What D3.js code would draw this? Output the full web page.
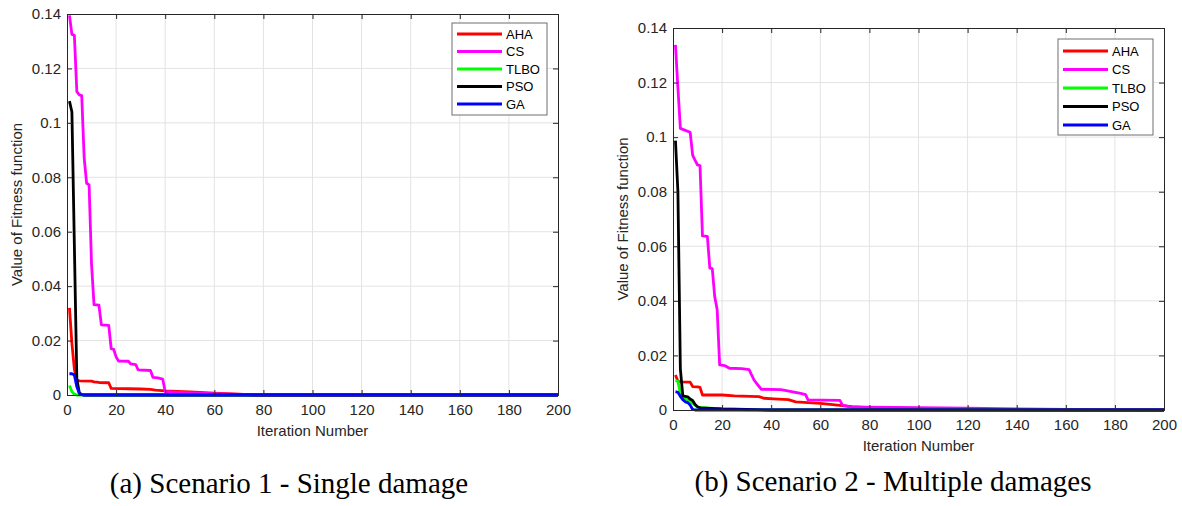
<!DOCTYPE html>
<html>
<head>
<meta charset="utf-8">
<script src="https://cdn.jsdelivr.net/npm/d3@7"></script>
<style>
  body { margin: 0; background: #fff; }
  svg { display: block; }
  .tick-label { font-family: "Liberation Sans", Arial, sans-serif; font-size: 15px; fill: #262626; }
  .axis-title { font-family: "Liberation Sans", Arial, sans-serif; font-size: 15px; fill: #262626; }
  .legend-text { font-family: "Liberation Sans", Arial, sans-serif; font-size: 13px; fill: #000; }
  .caption { font-family: "Liberation Serif", "Times New Roman", serif; font-size: 29px; fill: #000; }
</style>
</head>
<body>
<div id="chart"></div>
<script>
// series names and colours
const seriesNames = ["AHA", "CS", "TLBO", "PSO", "GA"];
const seriesColors = ["#ff0000", "#ff00ff", "#00ff00", "#000000", "#0000ff"];

// tick labels
const xTicks = [0, 20, 40, 60, 80, 100, 120, 140, 160, 180, 200];
const yTicks = [0, 0.02, 0.04, 0.06, 0.08, 0.1, 0.12, 0.14];
const yTickLabels = ["0", "0.02", "0.04", "0.06", "0.08", "0.1", "0.12", "0.14"];

// Scenario 1 - [iteration, fitness]
const s1AHA = [[1,0.0320],[2,0.0190],[3,0.0095],[4,0.0055],[5,0.0052],[10,0.0051],[11,0.0048],[13,0.0046],[17,0.0045],[18,0.0024],[25,0.0023],[30,0.0022],[34,0.0021],[36,0.0018],[40,0.0015],[50,0.0011],[60,0.0007],[70,0.0003],[76,0],[200,0]];
const s1CS = [[1,0.1395],[2,0.1325],[3,0.1322],[4,0.1115],[5,0.1103],[6,0.1100],[7,0.0870],[8,0.0778],[9,0.0772],[10,0.0480],[11,0.0332],[13,0.0330],[14,0.0258],[17,0.0256],[18,0.0170],[19,0.0168],[20,0.0140],[21,0.0125],[25,0.0124],[26,0.0114],[28,0.0112],[29,0.0092],[34,0.0090],[35,0.0065],[37,0.0063],[39,0.0058],[40,0.0012],[50,0.0008],[60,0.0005],[70,0.0002],[78,0],[200,0]];
const s1TLBO = [[1,0.0035],[2,0.0012],[3,0.0003],[4,0],[200,0]];
const s1PSO = [[1,0.1080],[2,0.1040],[3,0.0550],[4,0.0060],[5,0.0008],[6,0.0001],[7,0],[200,0]];
const s1GA = [[1,0.0078],[2,0.0078],[3,0.0074],[4,0.0030],[5,0.0006],[6,0.0001],[7,0],[200,0]];

// Scenario 2 - [iteration, fitness]
const s2AHA = [[1,0.0128],[2,0.0105],[3,0.0103],[7,0.0102],[8,0.0086],[10,0.0085],[11,0.0083],[12,0.0055],[20,0.0055],[25,0.0052],[35,0.0049],[37,0.0043],[41,0.0041],[47,0.0038],[50,0.0030],[60,0.0024],[67,0.0018],[73,0.0012],[80,0.0009],[100,0.0006],[120,0.0003],[140,0.0001],[160,0],[200,0]];
const s2CS = [[1,0.1338],[2,0.1180],[3,0.1032],[5,0.1025],[7,0.1018],[8,0.0934],[9,0.0915],[10,0.0898],[11,0.0896],[12,0.0638],[14,0.0636],[15,0.0520],[16,0.0518],[17,0.0415],[18,0.0367],[19,0.0165],[21,0.0163],[23,0.0153],[28,0.0152],[31,0.0148],[33,0.0110],[34,0.0098],[36,0.0076],[44,0.0075],[52,0.0061],[54,0.0056],[55,0.0037],[68,0.0035],[69,0.0018],[73,0.0010],[80,0.0010],[100,0.0009],[120,0.0007],[140,0.0004],[160,0.0002],[200,0.0001]];
const s2TLBO = [[1,0.0108],[2,0.0105],[3,0.0060],[4,0.0045],[5,0.0040],[6,0.0035],[7,0.0030],[8,0.0025],[9,0.0018],[10,0.0010],[12,0.0009],[15,0.0007],[20,0.0004],[30,0.0001],[40,0],[200,0]];
const s2PSO = [[1,0.0987],[2,0.0800],[3,0.0150],[4,0.0052],[5,0.0050],[6,0.0048],[7,0.0040],[8,0.0035],[9,0.0020],[10,0.0012],[11,0.0008],[15,0.0006],[20,0.0004],[30,0.0002],[40,0],[200,0]];
const s2GA = [[1,0.0067],[2,0.0065],[3,0.0050],[4,0.0038],[5,0.0030],[6,0.0027],[7,0.0018],[8,0.0002],[9,0],[200,0]];

const captions = ["(a) Scenario 1 - Single damage", "(b) Scenario 2 - Multiple damages"];

const width = 1182;
const height = 506;

const svg = d3.create("svg")
    .attr("width", width)
    .attr("height", height)
    .attr("viewBox", [0, 0, width, height]);

svg.append("rect").attr("width", width).attr("height", height).attr("fill", "#fff");

d3.select("#chart").append(() => svg.node());

function drawPanel(opts) {
    const { box, series, legend, yLabelX, caption, captionX, captionY } = opts;

    const x = d3.scaleLinear().domain([0, 200]).range([box.left, box.right]);
    const y = d3.scaleLinear().domain([0, 0.14]).range([box.bottom, box.top]);

    const g = svg.append("g");

    // grid
    g.append("g").selectAll("line")
        .data(xTicks.slice(1, -1))
        .join("line")
            .attr("x1", d => x(d)).attr("x2", d => x(d))
            .attr("y1", box.top).attr("y2", box.bottom)
            .attr("stroke", "#e3e3e3");
    g.append("g").selectAll("line")
        .data(yTicks.slice(1, -1))
        .join("line")
            .attr("y1", d => y(d)).attr("y2", d => y(d))
            .attr("x1", box.left).attr("x2", box.right)
            .attr("stroke", "#e3e3e3");

    // lines
    const line = d3.line().x(d => x(d[0])).y(d => y(d[1]));
    g.append("g").selectAll("path")
        .data(series)
        .join("path")
            .attr("d", d => line(d))
            .attr("fill", "none")
            .attr("stroke", (d, i) => seriesColors[i])
            .attr("stroke-width", 2.8)
            .attr("stroke-linejoin", "round");

    // axes: bottom / left with labels, top / right ticks only (inward)
    const axisColor = "#262626";
    const tick = 5;
    const bottom = g.append("g")
        .attr("transform", `translate(0,${box.bottom})`)
        .call(d3.axisBottom(x).tickValues(xTicks).tickSize(-tick).tickPadding(9));
    const left = g.append("g")
        .attr("transform", `translate(${box.left},0)`)
        .call(d3.axisLeft(y).tickValues(yTicks).tickFormat((d, i) => yTickLabels[i]).tickSize(-tick).tickPadding(6));
    const top = g.append("g")
        .attr("transform", `translate(0,${box.top})`)
        .call(d3.axisTop(x).tickValues(xTicks).tickSize(-tick).tickFormat(""));
    const right = g.append("g")
        .attr("transform", `translate(${box.right},0)`)
        .call(d3.axisRight(y).tickValues(yTicks).tickSize(-tick).tickFormat(""));

    [bottom, left, top, right].forEach(a => {
        a.select(".domain").attr("stroke", axisColor);
        a.selectAll(".tick line").attr("stroke", axisColor);
        a.selectAll("text").attr("class", "tick-label").attr("fill", null);
        a.attr("font-family", null).attr("font-size", null);
    });

    // axis titles
    g.append("text")
        .attr("class", "axis-title")
        .attr("x", (box.left + box.right) / 2)
        .attr("y", box.bottom + 41)
        .attr("text-anchor", "middle")
        .text("Iteration Number");

    g.append("text")
        .attr("class", "axis-title")
        .attr("transform", `translate(${yLabelX},${(box.top + box.bottom) / 2}) rotate(-90)`)
        .attr("dy", "0.35em")
        .attr("text-anchor", "middle")
        .text("Value of Fitness function");

    // legend
    const lg = g.append("g").attr("transform", `translate(${legend.x},${legend.y})`);
    lg.append("rect")
        .attr("width", legend.w).attr("height", legend.h)
        .attr("fill", "#fff").attr("stroke", "#6e6e6e");
    const rows = lg.selectAll("g.row")
        .data(seriesNames)
        .join("g")
            .attr("class", "row")
            .attr("transform", (d, i) => `translate(0,${legend.first + i * legend.step})`);
    rows.append("line")
        .attr("x1", 5).attr("x2", 50)
        .attr("stroke", (d, i) => seriesColors[i])
        .attr("stroke-width", 2.8);
    rows.append("text")
        .attr("class", "legend-text")
        .attr("x", 54)
        .attr("dy", "0.36em")
        .text(d => d);

    // caption
    svg.append("text")
        .attr("class", "caption")
        .attr("x", captionX)
        .attr("y", captionY)
        .attr("text-anchor", "middle")
        .text(caption);
}

drawPanel({
    box: { left: 67, right: 558, top: 14, bottom: 395 },
    series: [s1AHA, s1CS, s1TLBO, s1PSO, s1GA],
    legend: { x: 452, y: 23, w: 95, h: 92, first: 11, step: 17.5 },
    yLabelX: 17,
    caption: captions[0],
    captionX: 289,
    captionY: 493
});

drawPanel({
    box: { left: 673, right: 1164, top: 28, bottom: 410 },
    series: [s2AHA, s2CS, s2TLBO, s2PSO, s2GA],
    legend: { x: 1058, y: 39, w: 95, h: 96, first: 12, step: 18.5 },
    yLabelX: 623,
    caption: captions[1],
    captionX: 893,
    captionY: 491
});
</script>
</body>
</html>
